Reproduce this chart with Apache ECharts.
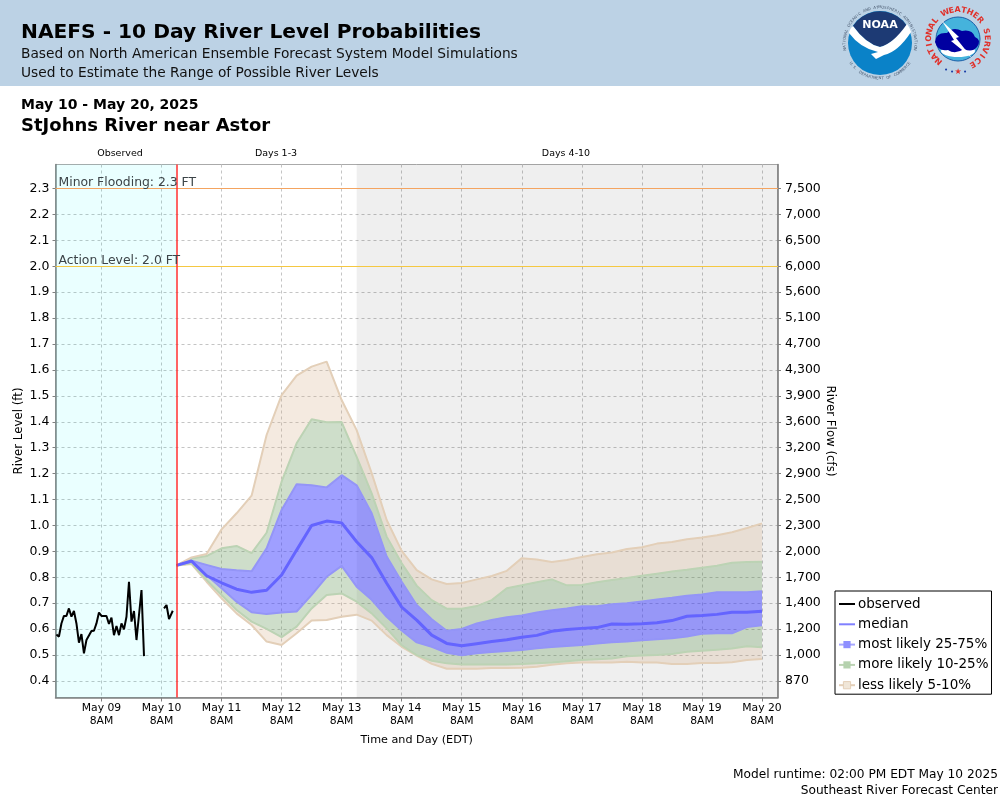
<!DOCTYPE html>
<html><head><meta charset="utf-8">
<style>html,body{margin:0;padding:0;background:#fff}#c{width:1000px;height:800px}</style>
<script src="https://cdn.jsdelivr.net/npm/echarts@6/dist/echarts.min.js"></script>
</head><body><div id="c"></div>
<script>
// Hours counted from May 09 8AM EDT
const dayTicks = [0,24,48,72,96,120,144,168,192,216,240,264];
const dayLabels = ['May 09','May 10','May 11','May 12','May 13','May 14','May 15','May 16','May 17','May 18','May 19','May 20'];
const levelTicks = [0.4,0.5,0.6,0.7,0.8,0.9,1.0,1.1,1.2,1.3,1.4,1.5,1.6,1.7,1.8,1.9,2.0,2.1,2.2,2.3];
const flowLabels = ['870','1,000','1,200','1,400','1,700','2,000','2,300','2,500','2,900','3,200','3,600','3,900','4,300','4,700','5,100','5,600','6,000','6,500','7,000','7,500'];

const obsHours = [-18,-17,-16,-15,-14,-13,-12,-11,-10,-9,-8,-7,-6,-4,-3,-2,-1,0,2,3,4,5,6,7,8,9,10,11,12,13,14,16,17,20,25,26,27,28.5];
const obsLevels = [0.579,0.571,0.622,0.651,0.651,0.680,0.648,0.670,0.622,0.548,0.581,0.507,0.558,0.593,0.594,0.622,0.664,0.651,0.651,0.620,0.644,0.577,0.612,0.577,0.622,0.599,0.648,0.783,0.629,0.670,0.558,0.751,0.496,null,0.680,0.693,0.639,0.671];

const fcstHours = [30,36,42,48,54,60,66,72,78,84,90,96,102,108,114,120,126,132,138,144,150,156,162,168,174,180,186,192,198,204,210,216,222,228,234,240,246,252,258,264];
const q95 = [0.846,0.877,0.890,0.985,1.047,1.115,1.349,1.503,1.578,1.613,1.632,1.484,1.368,1.202,1.021,0.902,0.828,0.792,0.774,0.778,0.792,0.805,0.825,0.874,0.869,0.859,0.867,0.878,0.889,0.896,0.909,0.916,0.930,0.936,0.947,0.954,0.962,0.974,0.990,1.008];
const q90 = [0.846,0.873,0.882,0.912,0.921,0.893,0.972,1.169,1.317,1.410,1.398,1.399,1.265,1.124,0.957,0.854,0.768,0.712,0.679,0.679,0.689,0.712,0.758,0.769,0.781,0.792,0.769,0.770,0.781,0.790,0.797,0.806,0.814,0.822,0.829,0.837,0.845,0.856,0.859,0.860];
const q75 = [0.846,0.864,0.848,0.832,0.827,0.823,0.912,1.060,1.159,1.155,1.147,1.194,1.155,1.047,0.880,0.783,0.693,0.638,0.594,0.601,0.622,0.635,0.646,0.653,0.664,0.673,0.680,0.688,0.688,0.696,0.700,0.707,0.714,0.721,0.729,0.734,0.742,0.742,0.742,0.746];
const q50 = [0.846,0.863,0.806,0.779,0.754,0.742,0.750,0.809,0.905,1.000,1.017,1.010,0.937,0.876,0.777,0.685,0.635,0.577,0.545,0.536,0.544,0.552,0.559,0.569,0.576,0.592,0.599,0.603,0.606,0.620,0.619,0.621,0.625,0.633,0.650,0.653,0.657,0.665,0.665,0.669];
const q25 = [0.846,0.860,0.809,0.758,0.706,0.665,0.658,0.664,0.668,0.732,0.802,0.844,0.764,0.713,0.648,0.595,0.549,0.532,0.509,0.499,0.507,0.512,0.516,0.520,0.526,0.531,0.535,0.539,0.545,0.549,0.552,0.557,0.561,0.565,0.572,0.582,0.584,0.584,0.608,0.615];
const q10 = [0.846,0.854,0.790,0.732,0.674,0.629,0.601,0.569,0.610,0.680,0.732,0.738,0.706,0.661,0.603,0.538,0.500,0.478,0.468,0.464,0.464,0.464,0.464,0.466,0.468,0.471,0.476,0.481,0.484,0.487,0.495,0.498,0.500,0.504,0.513,0.517,0.521,0.525,0.534,0.530];
const q05 = [0.846,0.851,0.783,0.719,0.661,0.616,0.552,0.539,0.584,0.633,0.635,0.648,0.656,0.633,0.577,0.532,0.498,0.466,0.447,0.447,0.447,0.450,0.450,0.451,0.455,0.463,0.468,0.471,0.471,0.471,0.474,0.471,0.471,0.466,0.466,0.469,0.469,0.472,0.481,0.485];

const nowHour = 30, day3End = 102, axisStart = -18.37, axisEnd = 270.4;
const minorLevel = 2.3, actionLevel = 2.0;

const BEIGE='rgba(210,170,130,0.25)', GREEN='rgba(107,155,94,0.33)', BLUE='rgba(64,64,255,0.5)';
const BEIGE_L='#e3cfb8', GREEN_L='#bcd3b4', BLUE_L='#9495f7', MEDIAN='#6464ff';
const FONT='"DejaVu Sans"';

// filled region between two quantile lines, projected through the axes
function fill(lo, up, color){
  return {type:'custom', silent:true, z:2, coordinateSystem:'cartesian2d', clip:true,
    encode:{x:0,y:[1,2]}, data:fcstHours.map((h,i)=>[h,lo[i],up[i]]),
    renderItem(params, api){
      if(params.dataIndex!==0) return null;
      const top=fcstHours.map((h,i)=>api.coord([h,up[i]]));
      const bot=fcstHours.map((h,i)=>api.coord([h,lo[i]])).reverse();
      return {type:'polygon', shape:{points:top.concat(bot)}, style:{fill:color}};
    }};
}
function edge(name, vals, color){
  return {name, type:'line', symbol:'rect', showSymbol:false, silent:true, z:3,
    data:fcstHours.map((h,i)=>[h,vals[i]]), lineStyle:{color,width:2}, itemStyle:{color}};
}
function arcText(text, cx, cy, r, a0, a1, font, color, flip){
  const out=[]; const n=text.length;
  for(let i=0;i<n;i++){
    if(text[i]===' ') continue;
    const a=(a0+(a1-a0)*i/(n-1))*Math.PI/180;
    out.push({type:'text', x:cx+r*Math.sin(a), y:cy-r*Math.cos(a), rotation:flip?Math.PI-a:-a, z:6,
      style:{text:text[i], font, fill:color, align:'center', verticalAlign:'middle'}});
  }
  return out;
}
function txt(text,x,y,font,fill,align){
  return {type:'text',x,y,z:6,style:{text,font,fill:fill||'#000',align:align||'left',verticalAlign:'middle'}};
}
function emblem(name,d,fill,z){
  echarts.graphic.registerShape(name, echarts.graphic.extendPath(d,{}));
  return {type:name,z,style:{fill}};
}
const graphics=[
  {type:'rect',z:0,shape:{x:0,y:0,width:1000,height:86},style:{fill:'#bcd2e5'}},
  txt('NAEFS - 10 Day River Level Probabilities',21,33,'bold 20.2px '+FONT),
  txt('Based on North American Ensemble Forecast System Model Simulations',21,54,'13.75px '+FONT,'#111'),
  txt('Used to Estimate the Range of Possible River Levels',21,73,'13.75px '+FONT,'#111'),
  txt('May 10 - May 20, 2025',21,105,'bold 14px '+FONT),
  txt('StJohns River near Astor',21,126,'bold 18px '+FONT),
  txt('Observed',120,154,'9.5px '+FONT,'#000','center'),
  txt('Days 1-3',276,154,'9.5px '+FONT,'#000','center'),
  txt('Days 4-10',566,154,'9.5px '+FONT,'#000','center'),
  txt('Model runtime: 02:00 PM EDT May 10 2025',998,775,'12.2px '+FONT,'#000','right'),
  txt('Southeast River Forecast Center',998,791,'12.2px '+FONT,'#000','right'),
  // NOAA emblem
  {type:'circle',z:4,shape:{cx:880,cy:43,r:32},style:{fill:'#0a82c8'}},
  emblem('noaaTop','M 853 26 A 32 32 0 0 1 907 26 Q 893 44 880 47 Q 866 44 853 26 Z','#1d3a74',5),
  emblem('noaaGull','M 849 33 Q 850 28 853 26 Q 866 44 880 47 Q 893 44 907 24 Q 910 28 911 32 Q 898 52 884 55 L 876 59 L 871 54 L 878 52 Q 860 48 849 33 Z','#fff',5),
  txt('NOAA',880,25,'bold 11px '+FONT,'#fff','center'),
  ...arcText('NATIONAL OCEANIC AND ATMOSPHERIC ADMINISTRATION',880,43,35.5,-100,100,'3.8px '+FONT,'#4a5a70'),
  ...arcText('U.S. DEPARTMENT OF COMMERCE',880,43,35.5,235,125,'3.8px '+FONT,'#4a5a70',true),
  // NWS emblem
  {type:'circle',z:4,shape:{cx:958,cy:39,r:22},style:{fill:'#45b3dc',stroke:'#1c5fa8',lineWidth:1}},
  {type:'ellipse',z:5,shape:{cx:958,cy:51,rx:17,ry:6},style:{fill:'#fff'}},
  emblem('nwsCloud','M 935 42 Q 936 32 947 33 Q 953 26 962 31 Q 972 29 975 37 Q 982 40 977 47 Q 972 53 964 49 Q 955 55 948 50 Q 938 52 935 42 Z','#0000a0',5),
  emblem('nwsBolt','M 942 21 L 959 37 L 956 38 L 972 58 L 951 41 L 954 40 Z','#fff',5),
  ...arcText('NATIONAL WEATHER SERVICE',958,39,29,-139,150,'bold 8px '+FONT,'#e0302a'),
  txt('•',946,70,'7px '+FONT,'#1c3fa8','center'),
  txt('•',952,72,'7px '+FONT,'#1c3fa8','center'),
  txt('★',958,72,'8px '+FONT,'#e0302a','center'),
  txt('•',965,72,'7px '+FONT,'#1c3fa8','center'),
];

const option={
  animation:false,
  textStyle:{fontFamily:FONT},
  graphic:{elements:graphics},
  grid:{left:55.5,right:222,top:164.5,bottom:102.5,outerBoundsMode:'none',show:true,borderColor:'#aaaaaa',borderWidth:1,backgroundColor:'transparent'},
  xAxis:{type:'value',min:axisStart,max:axisEnd,
    name:'Time and Day (EDT)',nameLocation:'middle',nameGap:37,nameTextStyle:{fontSize:11.2,color:'#000'},
    axisLine:{show:true,onZero:false,lineStyle:{color:'#808080',width:1.5}},
    axisTick:{show:true,length:4,customValues:dayTicks,lineStyle:{color:'#808080'}},
    axisLabel:{customValues:dayTicks,fontSize:10.8,color:'#000',lineHeight:13,margin:4,
      formatter:v=>dayLabels[dayTicks.indexOf(v)]+'\n8AM'},
    splitLine:{show:true,lineStyle:{color:'#c4c4c4',type:[3,3],width:1}}},
  yAxis:[
    {type:'value',min:0.3363,max:2.3927,position:'left',
     name:'River Level (ft)',nameLocation:'middle',nameGap:31,nameRotate:90,nameMoveOverlap:false,nameTextStyle:{fontSize:11.8,color:'#000'},
     axisLine:{show:true,onZero:false,lineStyle:{color:'#808080',width:1.5}},
     axisTick:{show:true,length:3,customValues:levelTicks,lineStyle:{color:'#808080'}},
     axisLabel:{customValues:levelTicks,fontSize:12.5,color:'#000',margin:6,padding:[2,0,0,0],formatter:v=>v.toFixed(1)},
     splitLine:{show:true,lineStyle:{color:'#c4c4c4',type:[3,3],width:1}}},
    {type:'value',min:0.3363,max:2.3927,position:'right',
     name:'River Flow (cfs)',nameLocation:'middle',nameGap:46,nameRotate:-90,nameMoveOverlap:false,nameTextStyle:{fontSize:11.8,color:'#000'},
     axisLine:{show:true,onZero:false,lineStyle:{color:'#808080',width:1.5}},
     axisTick:{show:true,length:3,customValues:levelTicks,lineStyle:{color:'#808080'}},
     axisLabel:{customValues:levelTicks,fontSize:12.5,color:'#000',margin:7,padding:[2,0,0,0],
       formatter:v=>flowLabels[levelTicks.findIndex(t=>Math.abs(t-v)<1e-6)]},
     splitLine:{show:false}}
  ],
  legend:{orient:'vertical',left:835,top:591,padding:[6,3,2,3],itemGap:6.3,itemWidth:16,itemHeight:9,
    backgroundColor:'#fff',borderColor:'#000',borderWidth:1,
    textStyle:{fontSize:13.5,color:'#000',padding:[0,0,0,-2]},selectedMode:false,
    data:[
      {name:'observed',itemStyle:{opacity:0},lineStyle:{color:'#000',width:2}},
      {name:'median',itemStyle:{opacity:0},lineStyle:{color:'#8080ff',width:2}},
      {name:'most likely 25-75%',itemStyle:{color:'#8f90ff'},lineStyle:{color:'#a8a8ff',width:2}},
      {name:'more likely 10-25%',itemStyle:{color:'#b5d2ae'},lineStyle:{color:'#bcd3b4',width:2}},
      {name:'less likely 5-10%',itemStyle:{color:'#f0e6d8',borderColor:'#e3cfb8',borderWidth:1},lineStyle:{color:'#e3cfb8',width:2}}
    ]},
  series:[
    {name:'shading',type:'line',data:[],silent:true,z:1,
     markArea:{silent:true,data:[
       [{xAxis:axisStart,itemStyle:{color:'rgba(0,255,255,0.082)'}},{xAxis:nowHour}],
       [{xAxis:day3End,itemStyle:{color:'rgba(0,0,0,0.063)'}},{xAxis:axisEnd}]]}},
    fill(q05,q10,BEIGE), fill(q10,q25,GREEN), fill(q25,q75,BLUE), fill(q75,q90,GREEN), fill(q90,q95,BEIGE),
    edge('less likely 5-10%',q05,BEIGE_L),
    edge('more likely 10-25%',q10,GREEN_L),
    edge('most likely 25-75%',q25,BLUE_L),
    edge('most likely 25-75%',q75,BLUE_L),
    edge('more likely 10-25%',q90,GREEN_L),
    edge('less likely 5-10%',q95,BEIGE_L),
    {name:'median',type:'line',symbol:'none',silent:true,z:4,
     data:fcstHours.map((h,i)=>[h,q50[i]]),lineStyle:{color:MEDIAN,width:3}},
    {name:'observed',type:'line',symbol:'none',silent:true,z:5,connectNulls:false,
     data:obsHours.map((h,i)=>[h,obsLevels[i]]),lineStyle:{color:'#000',width:2}},
    {name:'thresholds',type:'line',data:[],silent:true,z:6,
     markLine:{silent:true,symbol:'none',animation:false,data:[
       {name:'Minor Flooding: 2.3 FT',yAxis:minorLevel,lineStyle:{color:'#f4a460',width:1.2,type:'solid'},
        label:{show:true,position:'insideStartTop',distance:[3,0],formatter:'{b}',color:'#3c4448',fontSize:12.4,fontFamily:FONT}},
       {name:'Action Level: 2.0 FT',yAxis:actionLevel,lineStyle:{color:'#f5c842',width:1.2,type:'solid'},
        label:{show:true,position:'insideStartTop',distance:[3,0],formatter:'{b}',color:'#3c4448',fontSize:12.4,fontFamily:FONT}},
       {name:'now',xAxis:nowHour,lineStyle:{color:'#ff3030',width:1.5,type:'solid'},label:{show:false}}
     ]}}
  ]
};
const chart=echarts.init(document.getElementById('c'),null,{renderer:'canvas'});
chart.setOption(option);
</script></body></html>
